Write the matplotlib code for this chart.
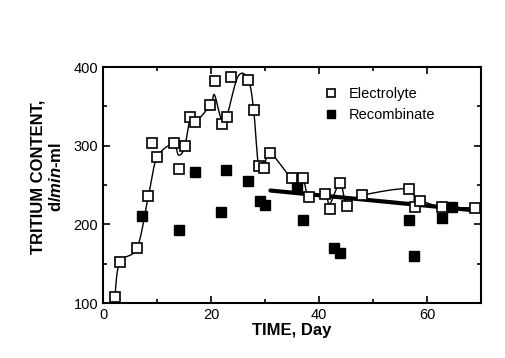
import numpy as np
import matplotlib
matplotlib.use("Agg")
import matplotlib.pyplot as plt

plt.rcParams['font.family'] = ['Liberation Sans', 'DejaVu Sans']
plt.rcParams['mathtext.fontset'] = 'custom'
plt.rcParams['mathtext.it'] = 'Liberation Sans:bold:italic'
plt.rcParams['mathtext.rm'] = 'Liberation Sans:bold'

# Electrolyte samples (open squares)
elec_day = [2.2, 3.1, 6.3, 8.4, 9.1, 10.0, 13.1, 14.0, 15.1, 16.2, 17.1, 19.9, 20.7,
            22.0, 22.9, 23.7, 26.9, 27.9, 28.8, 29.8, 30.9, 35.0, 37.0, 38.1, 41.1,
            42.0, 43.9, 45.1, 48.0, 56.6, 57.7, 58.7, 62.7, 68.8]
elec_val = [108, 152, 170, 236, 303, 285, 304, 270, 299, 336, 330, 352, 382,
            327, 336, 387, 384, 345, 274, 271, 291, 259, 259, 235, 238,
            220, 253, 223, 237, 245, 222, 230, 222, 221]

# Recombinate samples (filled squares)
rec_day = [7.2, 14.0, 17.1, 21.9, 22.8, 26.9, 29.0, 30.0, 36.0, 37.0, 42.8, 43.9,
           56.6, 57.6, 62.7, 64.6]
rec_val = [210, 193, 266, 216, 269, 255, 230, 225, 246, 206, 170, 164,
           205, 160, 208, 222]

# hand-drawn smooth curve through the electrolyte data
curve_day = [2.2, 3.1, 6.3, 8.4, 10.0, 13.0, 14.0, 15.1, 16.2, 17.1, 19.9, 20.6,
             21.6, 22.2, 22.9, 25.0, 26.9, 27.9, 28.8, 29.8, 30.9, 35.0, 37.0,
             38.1, 41.1, 42.0, 43.9, 45.1, 48.0, 56.6, 57.7, 58.7, 62.7, 68.8]
curve_val = [108, 152, 170, 236, 285, 302, 288, 298, 336, 330, 352, 365,
             340, 330, 336, 388, 384, 345, 274, 271, 291, 258, 258,
             236, 238, 226, 253, 228, 237, 245, 226, 230, 222, 221]

# regression line over the later period
trend_day = [31.0, 70.0]
trend_val = [243, 217]


def catmull_rom(xs, ys, n=20):
    p = np.column_stack([xs, ys]).astype(float)
    p = np.vstack([p[0], p, p[-1]])
    out = []
    t = np.linspace(0, 1, n)[:, None]
    for i in range(1, len(p) - 2):
        p0, p1, p2, p3 = p[i - 1], p[i], p[i + 1], p[i + 2]
        seg = 0.5 * ((2 * p1) + (-p0 + p2) * t + (2 * p0 - 5 * p1 + 4 * p2 - p3) * t ** 2
                     + (-p0 + 3 * p1 - 3 * p2 + p3) * t ** 3)
        out.append(seg)
    out = np.vstack(out)
    return out[:, 0], out[:, 1]


fig = plt.figure(figsize=(5.06, 3.58), dpi=100)
ax = fig.add_axes([0.2036, 0.1536, 0.747, 0.6592])

cx, cy = catmull_rom(curve_day, curve_val)
ax.plot(cx, cy, color='black', lw=1.0, zorder=2)
ax.plot(trend_day, trend_val, color='black', lw=3.0, solid_capstyle='round', zorder=2)

ax.plot(elec_day, elec_val, 's', ms=6.5, mfc='white', mec='black', mew=1.2,
        ls='none', label='Electrolyte', zorder=3)
ax.plot(rec_day, rec_val, 's', ms=6.5, mfc='black', mec='black',
        ls='none', label='Recombinate', zorder=3)

ax.set_xlim(0, 70)
ax.set_ylim(100, 400)
ax.set_xticks([0, 20, 40, 60])
ax.set_xticks([10, 30, 50], minor=True)
ax.set_yticks([100, 200, 300, 400])
ax.set_yticks([150, 250, 350], minor=True)
ax.tick_params(which='both', direction='in', top=True, right=True, width=1.2,
               labelsize=10.5, colors='black')
ax.tick_params(which='major', length=5)
ax.tick_params(which='minor', length=3)
for s in ax.spines.values():
    s.set_linewidth(1.5)

ax.set_xlabel('TIME, Day', fontsize=12, fontweight='bold', labelpad=1)

fig.text(0.076, 0.505, 'TRITIUM CONTENT,', rotation=90, ha='center', va='center',
         fontsize=12, fontweight='bold')
fig.text(0.11, 0.505, r'd/$\mathit{min}$-ml', rotation=90, ha='center', va='center',
         fontsize=12, fontweight='bold')

leg = ax.legend(loc='upper left', bbox_to_anchor=(0.565, 0.94), frameon=False,
                fontsize=10.5, handletextpad=0.6, borderaxespad=0.0, labelspacing=0.5,
                handlelength=1.2, markerscale=0.85)

fig.savefig('out.png', dpi=100)
